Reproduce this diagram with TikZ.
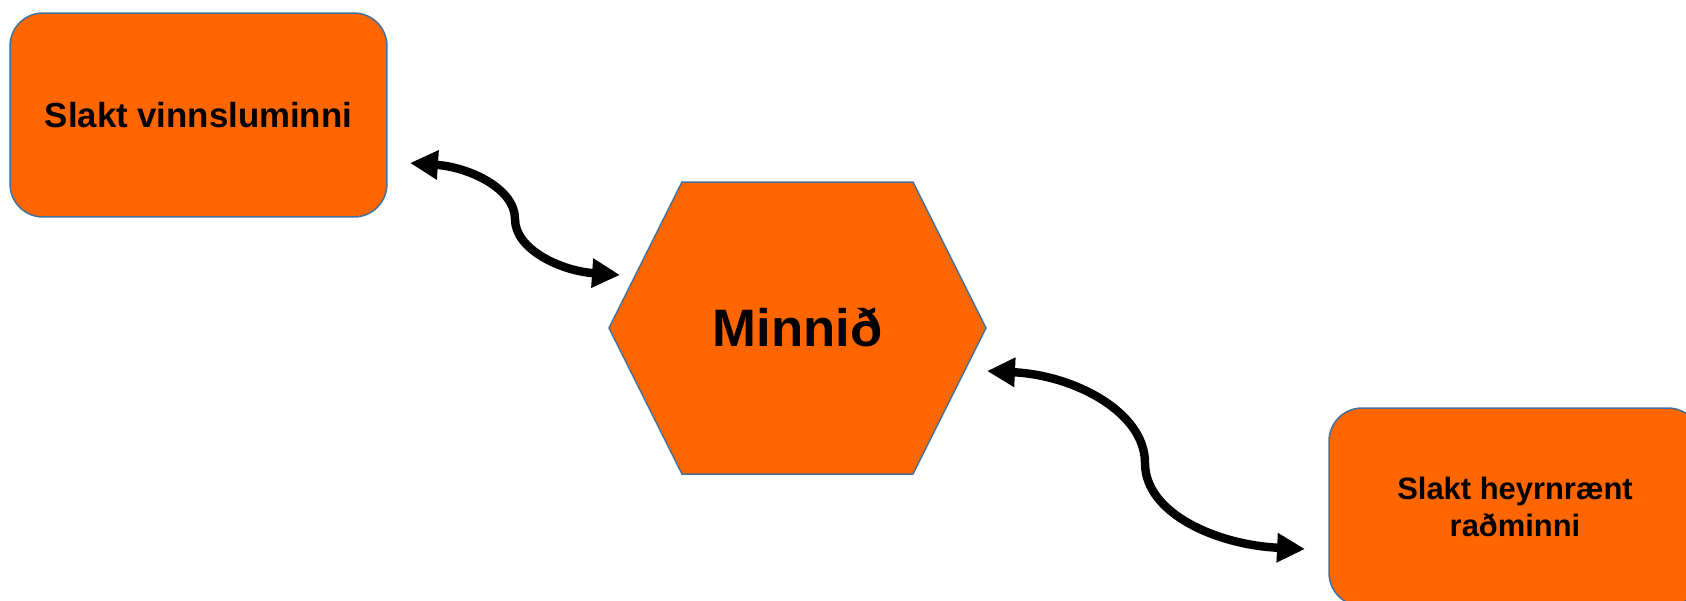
\documentclass[tikz,border=0pt]{standalone}
\usepackage{fontspec}
\setmainfont{Liberation Sans}
\usetikzlibrary{arrows.meta}
\definecolor{boxfill}{HTML}{FF6600}
\definecolor{boxline}{HTML}{41719C}
\begin{document}
\begin{tikzpicture}[x=0.02cm,y=-0.02cm,
  box/.style={draw=boxline, fill=boxfill, line width=0.85pt, rounded corners=0.66cm, align=center, inner sep=0pt},
  hexshape/.style={draw=boxline, fill=boxfill, line width=0.85pt, line join=miter},
  link/.style={line width=4.8pt, {Triangle[length=15.9pt,width=15.8pt]}-{Triangle[length=15.9pt,width=15.8pt]}}]
\useasboundingbox (0,0) rectangle (1686,600);
\clip (0,0) rectangle (1686,600);
% left box
\node[box, minimum width=7.54cm, minimum height=4.08cm, font=\fontsize{19.8}{24}\selectfont\bfseries] (n1) at (198.5,115) {Slakt vinnsluminni};
% right box
\node[box, minimum width=7.44cm, minimum height=3.96cm, font=\fontsize{17.6}{21.5}\selectfont\bfseries] (n2) at (1515,507) {Slakt heyrnrænt\\raðminni};
% hexagon
\draw[hexshape] (609,328) -- (682,182) -- (913,182) -- (986,328) -- (913,474) -- (682,474) -- cycle;
\node[font=\fontsize{30}{36}\selectfont\bfseries] (mem) at (797.5,327) {Minnið};
% connectors
\coordinate (a1s) at (410,163);
\coordinate (a1m) at (515,219);
\coordinate (a1e) at (620,275);
\coordinate (a2s) at (987,371);
\coordinate (a2m) at (1145,463);
\coordinate (a2e) at (1305,549);
\draw[link] (a1s) .. controls (468,167) and (515,188) .. (a1m) .. controls (515,250) and (562,271) .. (a1e);
\draw[link] (a2s) .. controls (1074,375) and (1145,412) .. (a2m) .. controls (1145,514) and (1218,545) .. (a2e);
\end{tikzpicture}
\end{document}
